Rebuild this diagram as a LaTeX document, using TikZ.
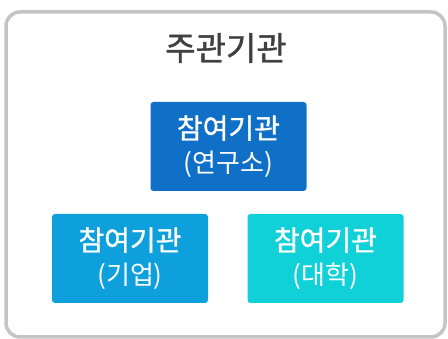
\documentclass[tikz,border=0pt]{standalone}
\usepackage{fontspec}
\newfontfamily\kr{Noto Sans CJK KR}
\newfontfamily\krmed[FakeBold=1.2]{Noto Sans CJK KR}
\usetikzlibrary{positioning}
\definecolor{framegray}{HTML}{C4C4C4}
\definecolor{titlegray}{HTML}{404040}
\definecolor{labblue}{HTML}{1070C8}
\definecolor{corpblue}{HTML}{0EA0DC}
\definecolor{unicyan}{HTML}{10D0D8}
\newcommand{\subname}[1]{{\kr\fontsize{26}{34}\selectfont #1}}
\begin{document}
\begin{tikzpicture}[x=1pt, y=1pt, font=\kr, line join=round,
		orgbox/.style={rounded corners=3pt, minimum width=156pt, minimum height=89pt,
			align=center, text=white, inner sep=0pt, font=\krmed\fontsize{28}{34}\selectfont}]
	\useasboundingbox (0,0) rectangle (448,339);
	% outer frame
	\draw[framegray, line width=3.5pt, rounded corners=14pt] (6,2) rectangle (445,327);
	\node (host) at (226,291) [text=titlegray, font=\krmed\fontsize{33}{38}\selectfont]{주관기관};
	\node[orgbox, fill=labblue] (lab) at (228.5,192.5) {참여기관\\\subname{(연구소)}};
	\node[orgbox, fill=corpblue] (corp) at (130,80.5) {참여기관\\\subname{(기업)}};
	\node[orgbox, fill=unicyan] (univ) at (325.5,80.5) {참여기관\\\subname{(대학)}};
\end{tikzpicture}
\end{document}
